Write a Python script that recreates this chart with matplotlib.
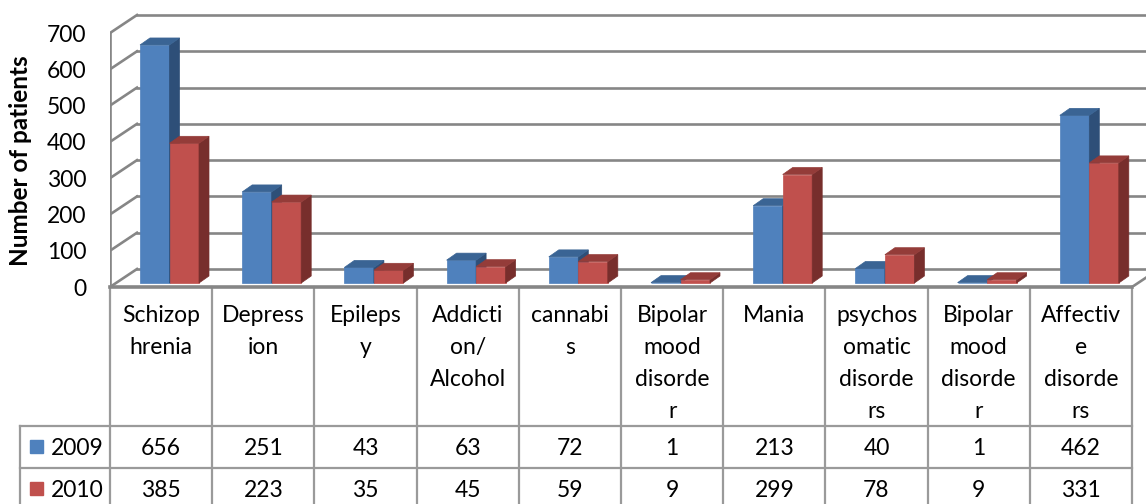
import matplotlib
matplotlib.use('Agg')
import matplotlib.pyplot as plt
from matplotlib.patches import Polygon, Rectangle

# data
header_lines = [
    ['Schizop', 'hrenia'],
    ['Depress', 'ion'],
    ['Epileps', 'y'],
    ['Addicti', 'on/', 'Alcohol'],
    ['cannabi', 's'],
    ['Bipolar', 'mood', 'disorde', 'r'],
    ['Mania'],
    ['psychos', 'omatic', 'disorde', 'rs'],
    ['Bipolar', 'mood', 'disorde', 'r'],
    ['Affectiv', 'e', 'disorde', 'rs'],
]
series_names = ['2009', '2010']
values_2009 = [656, 251, 43, 63, 72, 1, 213, 40, 1, 462]
values_2010 = [385, 223, 35, 45, 59, 9, 299, 78, 9, 331]
y_ticks = [0, 100, 200, 300, 400, 500, 600, 700]

W, H = 1146, 504
COLW = 102.2          # px per category
PXV = 254 / 700       # px per patient
DX, DY = 27 / COLW, 18 / PXV       # wall depth in data units
BDX, BDY = 10 / COLW, 7 / PXV      # bar depth
BASE = 4 / PXV
BW = 29.5 / COLW
GRID = '#868686'
LINE = '#9a9a9a'

face = {'2009': ('#4F81BD', '#3A6494', '#2E4F78'),
        '2010': ('#C0504D', '#943C39', '#772E2C')}

plt.rcParams['font.family'] = ['Lato', 'DejaVu Sans']
FS = 16.5


def box(l, t, r, b):
    return [l / W, 1 - b / H, (r - l) / W, (b - t) / H]


fig = plt.figure(figsize=(W / 100, H / 100), dpi=100)

# table / labels layer in pixel coordinates
tab = fig.add_axes([0, 0, 1, 1])
tab.set_xlim(0, W)
tab.set_ylim(H, 0)
tab.axis('off')

ncat = len(values_2009)
x0 = 110
right = x0 + ncat * COLW
for i in range(ncat + 1):
    x = x0 + i * COLW
    tab.plot([x, x], [287, 510], color=LINE, lw=1.6, clip_on=False)
tab.plot([20, 20], [426, 510], color=LINE, lw=1.6)
for y in [426, 468]:
    tab.plot([20, right], [y, y], color=LINE, lw=1.6)

baselines = [322, 354, 386, 418]
for i, lines in enumerate(header_lines):
    cx = x0 + (i + 0.5) * COLW
    for j, t in enumerate(lines):
        tab.text(cx, baselines[j], t, ha='center', va='baseline', fontsize=FS)

for r, (name, vals) in enumerate(zip(series_names, [values_2009, values_2010])):
    yb = 455 + r * 42
    tab.add_patch(Rectangle((30, yb - 15), 13, 13, color=face[name][0]))
    tab.text(51, yb, name, ha='left', va='baseline', fontsize=FS)
    for i, v in enumerate(vals):
        tab.text(x0 + (i + 0.5) * COLW, yb, str(v), ha='center', va='baseline', fontsize=FS)

tab.text(21, 161, 'Number of patients', rotation=90, ha='center', va='center',
         fontsize=17.5, fontweight='bold')

# 3d-looking chart area
ax = fig.add_axes(box(110, 0, W, 287))
ax.set_facecolor('none')
ax.set_xlim(0, (W - 110) / COLW)
ax.set_ylim(0, 287 / PXV)
for s in ax.spines.values():
    s.set_visible(False)
ax.set_xticks([])
ax.set_yticks(y_ticks)
ax.tick_params(axis='y', length=0, pad=17, labelsize=FS)

# walls and gridlines
for v in y_ticks:
    ax.plot([DX, ncat + DX + 1], [v + DY, v + DY], color=GRID, lw=1.9, zorder=1)
    ax.plot([0, DX], [v, v + DY], color=GRID, lw=1.9, zorder=1)
ax.plot([0, 0], [0, y_ticks[-1]], color=GRID, lw=1.9, zorder=1)
ax.plot([0, ncat], [0, 0], color=GRID, lw=2.6, zorder=1, clip_on=False)
ax.plot([ncat, ncat + DX], [0, DY], color=GRID, lw=1.9, zorder=1)


def bar3d(x, v, colors):
    front, top, side = colors
    y0, y1 = BASE, BASE + v
    ax.add_patch(Polygon([(x, y0), (x + BW, y0), (x + BW, y1), (x, y1)],
                         closed=True, fc=front, ec=front, lw=0.5, zorder=3))
    ax.add_patch(Polygon([(x + BW, y0), (x + BW + BDX, y0 + BDY),
                          (x + BW + BDX, y1 + BDY), (x + BW, y1)],
                         closed=True, fc=side, ec=side, lw=0.5, zorder=3))
    ax.add_patch(Polygon([(x, y1), (x + BW, y1), (x + BW + BDX, y1 + BDY),
                          (x + BDX, y1 + BDY)],
                         closed=True, fc=top, ec=top, lw=0.5, zorder=3))


for i in range(ncat):
    bar3d(i + 30 / COLW, values_2009[i], face['2009'])
    bar3d(i + 30 / COLW + BW, values_2010[i], face['2010'])

fig.savefig('out.png', dpi=100)
